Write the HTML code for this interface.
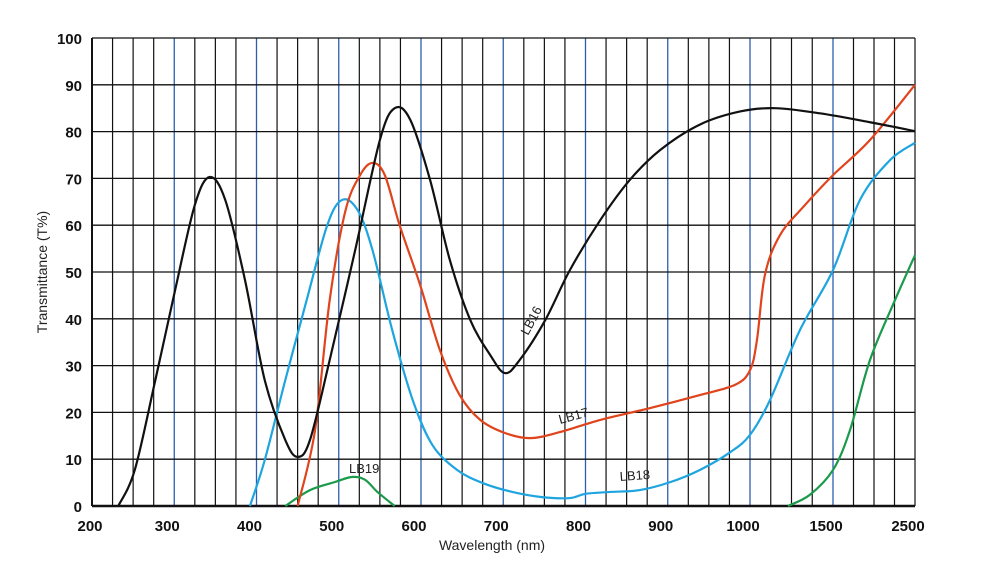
<!DOCTYPE html>
<html><head><meta charset="utf-8"><style>
body{margin:0;background:#fff;}
svg{display:block;font-family:"Liberation Sans",Arial,sans-serif;}
</style></head><body>
<svg id="chart" width="1000" height="568" viewBox="0 0 1000 568" xmlns="http://www.w3.org/2000/svg">
<g id="grid"></g>
<g id="series"></g>
<g id="labels"></g>
</svg>
<script>
const xTickLabels=[200,300,400,500,600,700,800,900,1000,1500,2500];
const yTickLabels=[0,10,20,30,40,50,60,70,80,90,100];
const lb16W=[232,252,277,301,325,343,362,386,410,435,450,465,489,520,550,568,587,611,635,660,684,702,720,751,781,818,854,891,939,988,1151,1422,1951,2500];
const lb16T=[0,7.7,26.9,46.1,64.3,70.3,65.4,48.3,26.9,14.1,10.5,14.1,31.2,54.7,78.2,85.0,82.5,69.7,52.6,39.7,32.3,28.4,31.2,39.7,50.4,61.1,69.7,76.1,81.5,84.3,85.0,83.9,82.0,80.1];
const lb17W=[450,471,489,508,526,541,556,574,599,623,647,672,702,733,769,818,878,939,982,1000,1042,1090,1181,1331,1500,1951,2500];
const lb17T=[0,16,44,63,70.7,73.3,70.7,60,47.2,33.3,23.7,18.4,15.6,14.5,15.8,18.4,20.9,23.7,25.9,29,35.5,49.4,57.9,64.3,70.7,78.2,90];
const lb18W=[392,410,435,461,486,504,523,541,565,590,614,644,675,711,747,781,800,830,866,903,939,976,1000,1120,1301,1500,1829,2195,2500];
const lb18T=[0,9.8,26.9,44,60,65.4,63.2,54.7,37.6,22.6,13.0,7.7,4.9,3.0,1.9,1.7,2.6,3.0,3.4,5.1,7.7,11.5,15.2,22.6,37.6,50.4,65.4,73.9,77.6];
const lb19aW=[435,465,495,516,532,547,568];
const lb19aT=[0,3.4,5.1,6.2,5.6,3.0,0];
const lb19bW=[1229,1361,1500,1707,1951,2256,2500];
const lb19bT=[0,2.4,7.7,16.2,31.2,44,53.6];

const NS="http://www.w3.org/2000/svg";
const X0=92,X1000=750,X1500=833,X2500=915,Y0=506,Y100=38;
function xs(v){
  if(v<=1000) return X0+(v-200)*(X1000-X0)/800;
  if(v<=1500) return X1000+(v-1000)*(X1500-X1000)/500;
  return X1500+(v-1500)*(X2500-X1500)/1000;
}
function ys(t){return Y0-(t/100)*(Y0-Y100);}
function mk(tag,attrs,parent){const e=document.createElementNS(NS,tag);for(const k in attrs)e.setAttribute(k,attrs[k]);parent.appendChild(e);return e;}
const grid=document.getElementById('grid'),series=document.getElementById('series'),labels=document.getElementById('labels');
for(let i=0;i<xTickLabels.length-1;i++){
  const a=xs(xTickLabels[i]),b=xs(xTickLabels[i+1]);
  for(let k=0;k<4;k++){
    const x=a+(b-a)*k/4;
    const major=(k===0&&i>0);
    const l=mk('line',{x1:x,x2:x,y1:Y100,y2:Y0,stroke:major?'#2d5fb0':'#111','stroke-width':major?1.3:1.2},grid);
    
    
  }
}
const r=mk('line',{x1:X2500,x2:X2500,y1:Y100,y2:Y0,stroke:'#111','stroke-width':1.2},grid);

yTickLabels.forEach(t=>{
  const y=ys(t);
  const l=mk('line',{x1:X0,x2:X2500,y1:y,y2:y,stroke:'#111','stroke-width':t===0?2.5:1.3},grid);
  
  
  const tx=mk('text',{x:82,y:y+6,'text-anchor':'end','font-size':15,'font-weight':'bold',fill:'#111'},labels);
  tx.textContent=t;
  
});
const ya=mk('line',{x1:X0,x2:X0,y1:Y100,y2:Y0,stroke:'#111','stroke-width':2},grid);

xTickLabels.forEach((v,i)=>{
  const x=xs(v)-(i===0?2:7);
  const tx=mk('text',{x:x,y:531,'text-anchor':'middle','font-size':15,'font-weight':'bold',fill:'#111'},labels);
  tx.textContent=v;
  
});
function path(W,T,color,name){
  const p=W.map((w,i)=>[xs(w),ys(T[i])]);
  let d='M'+p[0][0]+','+p[0][1];
  for(let i=0;i<p.length-1;i++){
    const p0=p[Math.max(0,i-1)],p1=p[i],p2=p[i+1],p3=p[Math.min(p.length-1,i+2)];
    const c1=[p1[0]+(p2[0]-p0[0])/6,p1[1]+(p2[1]-p0[1])/6];
    const c2=[p2[0]-(p3[0]-p1[0])/6,p2[1]-(p3[1]-p1[1])/6];
    d+=` C${c1[0]},${c1[1]} ${c2[0]},${c2[1]} ${p2[0]},${p2[1]}`;
  }
  const e=mk('path',{d:d,fill:'none',stroke:color,'stroke-width':2.2,'stroke-linejoin':'round'},series);
  
}
path(lb19aW,lb19aT,'#1a9a4a','lb19-curve-visible');
path(lb19bW,lb19bT,'#1a9a4a','lb19-curve-ir');
path(lb18W,lb18T,'#1ea5e0','lb18-curve');
path(lb17W,lb17T,'#e0441c','lb17-curve');
path(lb16W,lb16T,'#111','lb16-curve');
function lab(txt,x,y,rot,name){
  const t=mk('text',{x:x,y:y,'font-size':13,fill:'#222',transform:`rotate(${rot} ${x} ${y})`},labels);
  t.textContent=txt;
}
lab('LB16',528,336,-62,'lb16-label');
lab('LB17',560,424,-15,'lb17-label');
lab('LB18',620,481,-4,'lb18-label');
lab('LB19',349,473,0,'lb19-label');
const xt=mk('text',{x:492,y:550,'text-anchor':'middle','font-size':14,fill:'#222'},labels);
xt.textContent='Wavelength (nm)';
const yt=mk('text',{x:47,y:272,'text-anchor':'middle','font-size':14,fill:'#222',transform:'rotate(-90 47 272)'},labels);
yt.textContent='Transmittance (T%)';
</script>
</body></html>
